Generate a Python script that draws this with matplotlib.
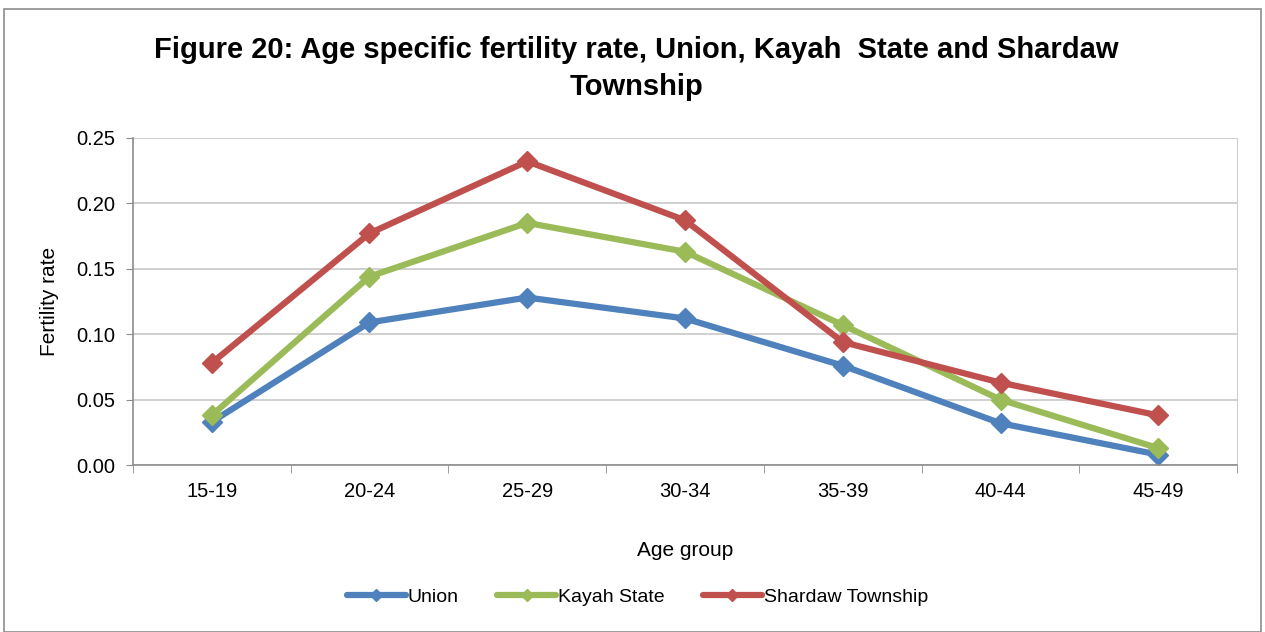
import matplotlib
matplotlib.use("Agg")
import matplotlib.pyplot as plt
from matplotlib.patches import Rectangle

age_groups = ["15-19", "20-24", "25-29", "30-34", "35-39", "40-44", "45-49"]
union = [0.033, 0.109, 0.128, 0.112, 0.076, 0.032, 0.008]
kayah = [0.038, 0.144, 0.185, 0.163, 0.107, 0.050, 0.013]
shardaw = [0.078, 0.177, 0.232, 0.187, 0.094, 0.063, 0.038]
series_names = ["Union", "Kayah State", "Shardaw Township"]
yticks = [0.00, 0.05, 0.10, 0.15, 0.20, 0.25]

plt.rcParams['font.family'] = ['Liberation Sans', 'DejaVu Sans']

fig = plt.figure(figsize=(12.65, 6.32), dpi=100)
fig.patches.append(Rectangle((0.003, 0.0), 0.994, 0.985, transform=fig.transFigure,
                             fill=False, edgecolor="#8c8c8c", linewidth=1.2))
ax = fig.add_axes([0.105, 0.264, 0.873, 0.518])

colors = ["#4F81BD", "#9BBB59", "#C0504D"]
x = list(range(len(age_groups)))
for vals, name, c in zip([union, kayah, shardaw], series_names, colors):
    ax.plot(x, vals, color=c, linewidth=4.5, marker="D", markersize=10,
            markeredgecolor=c, label=name, solid_capstyle="round")

ax.set_xlim(-0.5, len(age_groups) - 0.5)
ax.set_ylim(0, 0.25)
ax.set_yticks(yticks)
ax.set_yticklabels([f"{v:.2f}" for v in yticks], fontsize=14.5)
ax.set_xticks(x)
ax.set_xticklabels(age_groups, fontsize=14.5)
ax.set_xticks([i - 0.5 for i in range(len(age_groups) + 1)], minor=True)
ax.tick_params(axis="x", which="major", length=0, pad=12)
ax.tick_params(axis="x", which="minor", length=6, color="#8c8c8c", direction="out")
ax.tick_params(axis="y", length=5, color="#8c8c8c", direction="out", pad=8)
ax.grid(axis="y", color="#c8c8c8", linewidth=1.2)
ax.set_axisbelow(True)
ax.spines["top"].set_visible(False)
ax.spines["right"].set_color("#d0d0d0")
ax.spines["left"].set_color("#8c8c8c")
ax.spines["bottom"].set_color("#8c8c8c")
ax.spines["left"].set_linewidth(1.2)
ax.spines["bottom"].set_linewidth(1.2)

ax.set_xlabel("Age group", fontsize=15, labelpad=29)
ax.set_ylabel("Fertility rate", fontsize=15, labelpad=12)

fig.text(0.503, 0.891, "Figure 20: Age specific fertility rate, Union, Kayah  State and Shardaw\nTownship",
         ha="center", va="center", fontsize=21, fontweight="bold", linespacing=1.4)

fig.legend(loc="center", bbox_to_anchor=(0.504, 0.055), ncol=3, frameon=False,
           handlelength=3.0, columnspacing=2.0, handletextpad=0.1, markerscale=0.6,
           prop={"size": 14})

fig.savefig("out.png", dpi=100)
